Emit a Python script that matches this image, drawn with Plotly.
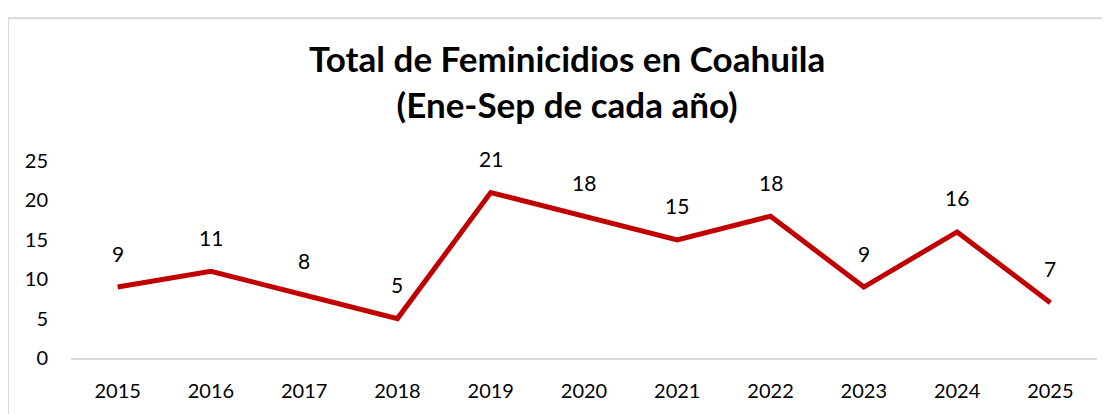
import plotly.graph_objects as go

years = ["2015", "2016", "2017", "2018", "2019", "2020", "2021", "2022", "2023", "2024", "2025"]
values = [9, 11, 8, 5, 21, 18, 15, 18, 9, 16, 7]
y_ticks = [0, 5, 10, 15, 20, 25]
title_lines = ["Total de Feminicidios en Coahuila", "(Ene-Sep de cada año)"]

OFF = 8  # page body margin
W, H = 1110 - OFF, 414 - OFF
ML, MR, MT, MB = 71 - OFF, 13, 161 - OFF, 53
pw = W - ML - MR
ph = H - MT - MB

def px_to_paper_x(px):
    return (px - OFF - ML) / pw

def py_to_paper_y(py):
    return (H - MB - (py - OFF)) / ph

FONT = "Lato, Calibri, 'Open Sans', sans-serif"

fig = go.Figure()
fig.add_trace(go.Scatter(
    x=years, y=values, mode="lines",
    line=dict(color="#C00000", width=5),
    hoverinfo="skip", showlegend=False,
))

for i, v in enumerate(values):
    fig.add_annotation(x=i, y=v, text=str(v), showarrow=False, yshift=34,
                       font=dict(family=FONT, size=21, color="#000000"))

fig.add_annotation(xref="paper", yref="paper",
                   x=px_to_paper_x(567), y=py_to_paper_y(80),
                   text="<b>" + title_lines[0] + "</b><br><b>" + title_lines[1] + "</b>",
                   showarrow=False, xanchor="center", yanchor="middle",
                   font=dict(family=FONT, size=35, color="#000000"))

fig.add_shape(type="rect", xref="paper", yref="paper",
              x0=px_to_paper_x(8), x1=px_to_paper_x(1130),
              y0=py_to_paper_y(440), y1=py_to_paper_y(16),
              line=dict(color="#d9d9d9", width=2), fillcolor="rgba(0,0,0,0)", layer="below")

fig.update_layout(
    width=W, height=H,
    margin=dict(l=ML, r=MR, t=MT, b=MB, pad=0),
    paper_bgcolor="white", plot_bgcolor="white",
    font=dict(family=FONT, size=20, color="#000000"),
    xaxis=dict(type="category", showgrid=False, zeroline=False,
               showline=True, linecolor="#d9d9d9", linewidth=2,
               ticks="", ticklabelstandoff=14,
               tickfont=dict(family=FONT, size=20, color="#000000"),
               range=[-0.5, len(years) - 0.5]),
    yaxis=dict(range=[0, 25], tickvals=y_ticks, showgrid=False, zeroline=False,
               showline=False, ticks="", ticklabelstandoff=22,
               tickfont=dict(family=FONT, size=20, color="#000000")),
)

fig.write_html("out.html")
